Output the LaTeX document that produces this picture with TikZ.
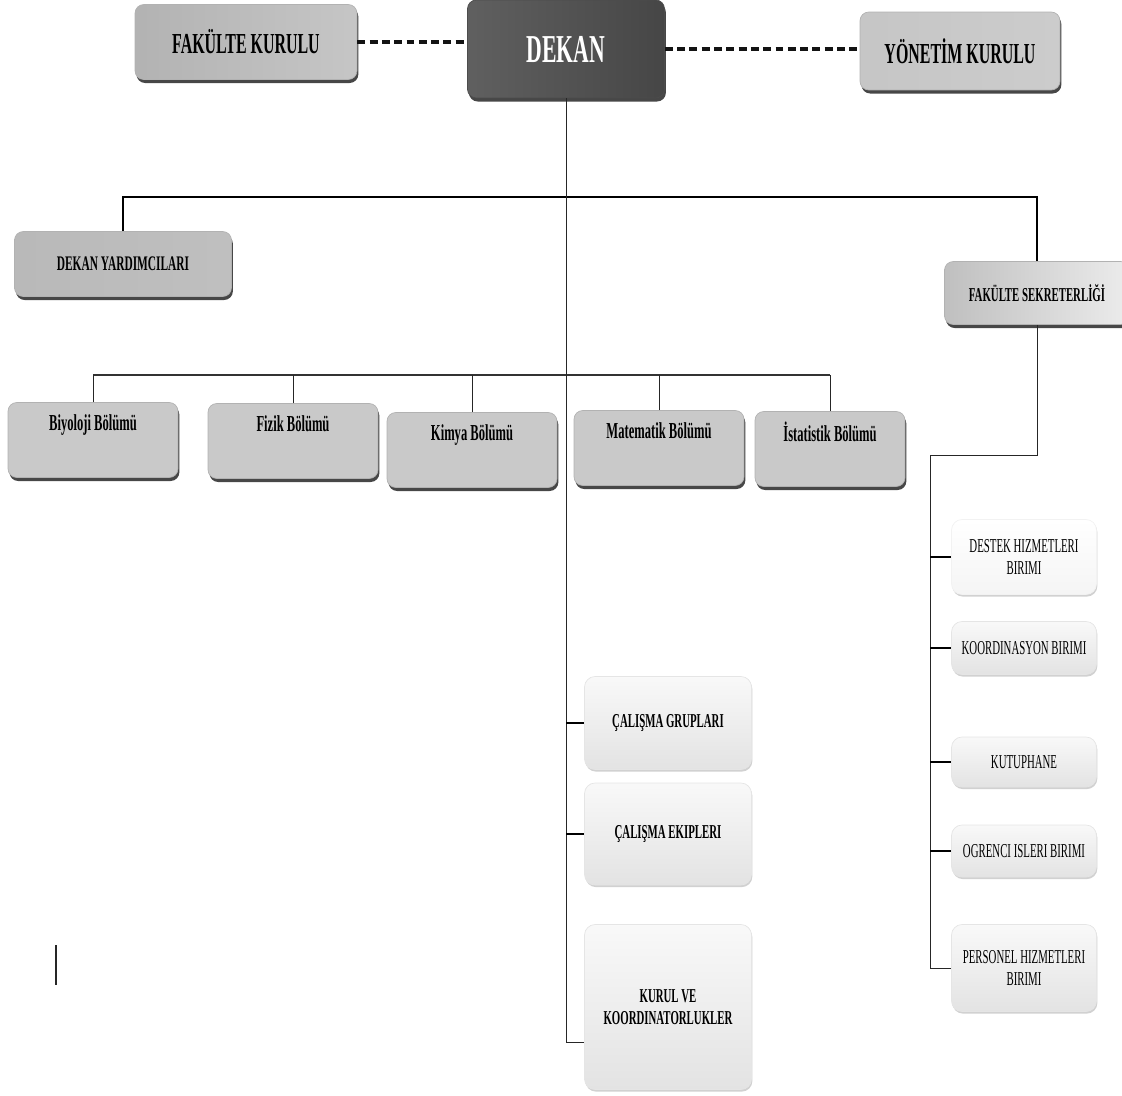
\documentclass[tikz,border=0pt]{standalone}
\usepackage{fontspec}
\setmainfont{Liberation Serif}[FakeStretch=0.55]
\usetikzlibrary{shadows}

\tikzset{
	topbox/.style={rectangle, rounded corners=5pt, draw=gray!60, font=\bfseries,
		drop shadow={shadow xshift=0.8pt, shadow yshift=-2pt, fill=black!80, opacity=0.9}},
	deptbox/.style={rectangle, rounded corners=5pt, draw=gray!60, fill=gray!42,
		minimum width=3.4cm, minimum height=1.5cm, text depth=20pt,
		font=\bfseries\fontsize{13}{15}\selectfont,
		drop shadow={shadow xshift=0.8pt, shadow yshift=-2pt, fill=black!80, opacity=0.9}},
	unitbox/.style={rectangle, rounded corners=6pt, draw=gray!20, top color=gray!5, bottom color=gray!22,
		align=center, font=\fontsize{11.2}{12.5}\selectfont,
		drop shadow={shadow xshift=0.5pt, shadow yshift=-1.2pt, fill=gray!45, opacity=0.8}},
	dashline/.style={line width=2.2pt, dash pattern=on 4.5pt off 2.5pt, gray!15!black},
}

\begin{document}
\begin{tikzpicture}[x=0.02cm, y=-0.02cm]
	\useasboundingbox (0,0) rectangle (1122,1095);

	% top row
	\node[topbox, left color=gray!60, middle color=gray!22, right color=gray!45,
		minimum width=4.44cm, minimum height=1.5cm, font=\bfseries\fontsize{16.5}{18}\selectfont]
		(fk) at (246,42) {FAKÜLTE KURULU};
	\node[topbox, left color=gray!75!black, right color=gray!55!black, draw=black!70, text=white,
		minimum width=3.94cm, minimum height=1.96cm, font=\bfseries\fontsize{22.5}{24}\selectfont]
		(dekan) at (566,49) {DEKAN};
	\node[topbox, left color=gray!45, middle color=gray!12, right color=gray!40,
		minimum width=4cm, minimum height=1.56cm, font=\bfseries\fontsize{16.5}{18}\selectfont]
		(yk) at (960,51) {YÖNETİM KURULU};
	\draw[dashline] (fk.east) -- (fk.east -| dekan.west);
	\draw[dashline] (dekan.east) -- (dekan.east -| yk.west);

	% second row
	\node[topbox, left color=gray!55, middle color=gray!30, right color=gray!50,
		minimum width=4.34cm, minimum height=1.3cm, font=\bfseries\fontsize{11.8}{13}\selectfont]
		(dy) at (123,264) {DEKAN YARDIMCILARI};
	\node[topbox, left color=gray!50, right color=gray!15,
		minimum width=3.7cm, minimum height=1.26cm, font=\bfseries\fontsize{11.2}{13}\selectfont]
		(fs) at (1037,293) {FAKÜLTE SEKRETERLİĞİ};
	\coordinate (topbus) at (0,197);
	\draw[line width=1.2pt] (dy.north) -- (dy.north |- topbus) -- (fs.north |- topbus) -- (fs.north);

	% departments
	\node[deptbox] (biyo) at (93,440) {Biyoloji Bölümü};
	\node[deptbox] (fizik) at (293,441) {Fizik Bölümü};
	\node[deptbox] (kimya) at (472,450) {Kimya Bölümü};
	\node[deptbox] (mat) at (659,448) {Matematik Bölümü};
	\node[deptbox, minimum width=3cm] (ista) at (830,449) {İstatistik Bölümü};
	\coordinate (deptbus) at (0,375);
	\draw[line width=1pt, gray!40!black] (biyo.north |- deptbus) -- (ista.north |- deptbus);
	\foreach \d in {biyo,fizik,kimya,mat,ista}
		\draw[gray!30!black] (\d.north) -- (\d.north |- deptbus);

	% units under the dean
	\node[unitbox, font=\bfseries\fontsize{11.2}{12.5}\selectfont, minimum width=3.34cm, minimum height=1.86cm]
		(grup) at (668,723) {ÇALIŞMA GRUPLARI};
	\node[unitbox, font=\bfseries\fontsize{11.2}{12.5}\selectfont, minimum width=3.34cm, minimum height=2.04cm]
		(ekip) at (668,834) {ÇALIŞMA EKIPLERI};
	\node[unitbox, font=\bfseries\fontsize{11.2}{12.5}\selectfont, minimum width=3.34cm, minimum height=3.3cm]
		(kurul) at (668,1007) {KURUL VE\\KOORDINATORLUKLER};
	\draw[gray!30!black] (dekan.south) |- ([yshift=-20pt]kurul.west);
	\foreach \u in {grup,ekip}
		\draw[line width=0.8pt] (\u.west -| dekan.south) -- (\u.west);

	% units under the secretary
	\node[unitbox, top color=white, bottom color=gray!8, draw=gray!10, minimum width=2.9cm, minimum height=1.5cm]
		(destek) at (1024,557) {DESTEK HIZMETLERI\\BIRIMI};
	\node[unitbox, minimum width=2.9cm, minimum height=1.06cm] (koord) at (1024,648) {KOORDINASYON BIRIMI};
	\node[unitbox, minimum width=2.9cm, minimum height=1cm] (kutup) at (1024,762) {KUTUPHANE};
	\node[unitbox, minimum width=2.9cm, minimum height=1.04cm] (ogr) at (1024,851) {OGRENCI ISLERI BIRIMI};
	\node[unitbox, minimum width=2.9cm, minimum height=1.74cm] (pers) at (1024,968) {PERSONEL HIZMETLERI\\BIRIMI};
	\coordinate (rbus) at (930,455);
	\draw[gray!30!black] (fs.south) |- (rbus) |- (pers.west);
	\foreach \u in {destek,koord,kutup,ogr}
		\draw[line width=0.8pt] (\u.west -| rbus) -- (\u.west);

	% stray mark
	\draw[line width=1.2pt, gray!30!black] (56,945) -- (56,985);
\end{tikzpicture}
\end{document}
